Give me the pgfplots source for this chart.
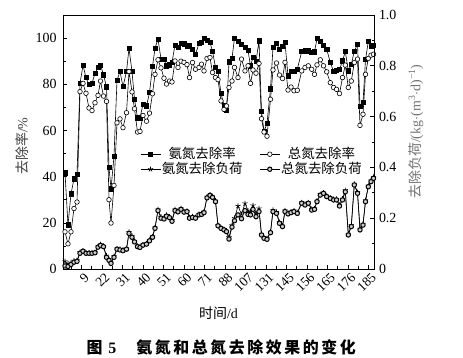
\documentclass[border=0pt]{standalone}
\usepackage{fontspec}
\setmainfont{Liberation Serif}
\newfontfamily\cjk{Noto Sans CJK SC}
\newfontfamily\cjkcap{Noto Sans CJK SC}[LetterSpace=16]
\usepackage{pgfplots}
\usepackage{pgfplotstable}
\pgfplotsset{compat=1.18}

\pgfplotstableread{
x nh tn nhl tnl
2 41.6 16.1 0.030 0.012
5 19.1 10.9 0.020 0.010
8 32.6 16.1 0.025 0.018
11 39.0 26.2 0.032 0.027
14 40.9 29.0 0.034 0.030
17 80.4 76.8 0.066 0.062
20 88.2 80.4 0.072 0.070
23 82.9 76.1 0.064 0.062
26 79.9 69.7 0.064 0.062
29 80.4 68.6 0.064 0.062
32 84.8 72.0 0.066 0.064
35 87.3 75.2 0.088 0.086
37.5 88.2 81.4 0.096 0.093
40.5 84.1 74.9 0.090 0.088
43.5 78.9 72.6 0.052 0.046
46 44.1 30.0 0.038 0.034
48 34.7 19.9 0.025 0.022
51 48.8 36.2 0.050 0.046
54 81.7 63.3 0.080 0.078
57 85.5 65.0 0.078 0.075
60 79.0 61.2 0.075 0.072
63.5 85.5 67.7 0.080 0.078
66 95.6 85.5 0.145 0.140
69 85.5 76.7 0.130 0.125
71.5 73.5 69.4 0.110 0.107
74.5 65.5 59.3 0.090 0.088
77 65.5 59.6 0.087 0.085
80 71.3 66.5 0.096 0.094
83.5 70.6 64.0 0.100 0.098
86.5 76.4 67.5 0.114 0.111
89.5 87.7 75.9 0.128 0.125
92 95.6 84.3 0.163 0.160
95 99.6 90.6 0.234 0.230
98 90.9 87.1 0.205 0.200
101 90.9 82.6 0.200 0.197
103.5 88.0 80.1 0.212 0.208
106.5 88.4 81.4 0.205 0.202
109 89.5 81.0 0.192 0.188
112 97.0 90.1 0.234 0.230
115 96.1 87.3 0.228 0.225
118 97.8 90.0 0.238 0.235
121 97.5 89.5 0.226 0.224
124 96.5 88.5 0.228 0.226
126.5 96.7 82.9 0.203 0.200
129.5 95.2 89.4 0.206 0.203
132.5 93.0 86.5 0.203 0.200
136 97.7 87.3 0.216 0.213
138.5 98.1 88.7 0.218 0.215
141 99.8 85.8 0.225 0.222
144 99.1 91.2 0.284 0.280
147 98.1 91.6 0.292 0.290
149.5 94.3 85.1 0.285 0.282
152.5 87.3 82.9 0.268 0.265
155 85.5 82.0 0.172 0.170
158 76.1 72.8 0.162 0.160
161 70.9 69.1 0.156 0.154
163.5 68.7 70.6 0.150 0.147
166 89.7 78.6 0.125 0.118
169 91.2 81.4 0.172 0.165
171.5 100.0 87.3 0.200 0.190
175 98.7 82.9 0.248 0.213
178.5 97.4 90.9 0.215 0.198
182 96.0 85.8 0.258 0.230
185 94.6 88.0 0.230 0.215
187.5 88.0 80.4 0.225 0.213
190 91.6 86.2 0.250 0.235
193 90.0 84.8 0.220 0.206
196 98.8 89.0 0.238 0.226
198.5 68.2 65.1 0.138 0.134
201 59.7 59.3 0.124 0.121
204 63.0 57.5 0.120 0.117
207.5 78.0 73.5 0.146 0.143
210 96.0 86.2 0.232 0.226
213.5 97.7 89.2 0.224 0.219
216.5 95.2 84.0 0.184 0.180
219.5 96.5 82.5 0.170 0.167
222 98.1 89.5 0.230 0.226
225 83.6 77.5 0.220 0.217
228 85.5 78.8 0.225 0.222
231 85.5 77.2 0.230 0.226
234.3 86.5 77.4 0.222 0.219
238.7 94.2 85.8 0.262 0.259
242 94.5 87.3 0.255 0.252
245.3 94.5 88.0 0.262 0.259
248.7 93.8 86.5 0.236 0.232
251.5 94.0 84.3 0.238 0.235
254 99.8 88.4 0.268 0.265
257.3 98.6 90.6 0.294 0.291
260.5 97.0 88.0 0.300 0.298
263.7 95.2 85.4 0.288 0.285
267.3 89.4 80.7 0.280 0.278
270.6 85.6 78.6 0.275 0.272
273.5 86.1 77.8 0.275 0.272
276.5 86.5 76.0 0.252 0.248
279.5 90.1 82.9 0.276 0.272
282.3 94.2 88.3 0.310 0.304
285.3 85.8 78.6 0.138 0.134
288.3 88.7 81.4 0.172 0.167
291.3 94.3 89.4 0.335 0.331
294.5 97.4 90.9 0.302 0.298
297 70.5 62.2 0.158 0.154
300 72.1 67.0 0.177 0.173
302.5 90.7 84.3 0.270 0.265
305.3 98.5 91.2 0.328 0.324
308 96.4 92.6 0.348 0.344
310.5 97.0 93.0 0.362 0.357
}\data

\begin{document}
\begin{tikzpicture}
\path[use as bounding box] (-63bp,-89bp) rectangle (400bp,269bp);
\pgfplotsset{
  common/.style={
    scale only axis, width=311bp, height=254bp,
    at={(0,0)}, anchor=south west,
    xmin=0, xmax=311,
    tick align=inside,
    major tick length=4bp, minor tick length=2.5bp,
    every tick/.style={black, line width=0.6bp},
    axis line style={line width=0.7bp, black},
    tick label style={font=\fontsize{14}{14}\selectfont},
    /pgf/number format/assume math mode=true,
  },
  sq/.style={black, line width=0.6bp, mark=square*, mark size=2.2bp, mark options={solid, fill=black}},
  ci/.style={black, line width=0.6bp, mark=*, mark size=2.3bp, mark options={solid, fill=white, line width=0.6bp}},
  st/.style={black, line width=0.6bp, mark=star, mark size=2.7bp, mark options={solid, line width=0.6bp}},
  cl/.style={black, line width=0.6bp, mark=*, mark size=2.2bp, mark options={solid, fill=gray!40, draw=black, line width=1bp}},
}
\begin{axis}[common,
  ymin=0, ymax=110,
  xtick pos=bottom, ytick pos=left,
  ytick={0,20,40,60,80,100},
  minor ytick={10,30,50,70,90},
  xtick={18.4,38.9,59.4,79.9,100.4,120.9,141.4,161.9,182.4,202.9,223.4,243.9,264.4,284.9,305.4},
  minor xtick={8.15,28.65,49.15,69.65,90.15,110.65,131.15,151.65,172.15,192.65,213.15,233.65,254.15,274.65,295.15},
  xticklabels={9,22,31,40,51,60,71,88,107,131,145,156,165,176,185},
  xticklabel style={rotate=45, anchor=north east, inner sep=0.5bp, yshift=-3bp, font=\fontsize{13.5}{13.5}\selectfont},
  yticklabel style={xshift=-3bp},
  xlabel={{\cjk 时间}/d},
  xlabel style={at={(axis description cs:0.5,-0.173)}, anchor=center, font=\fontsize{14}{14}\selectfont},
  ylabel={{\cjk 去除率}/\%},
  ylabel style={at={(axis description cs:-0.132,0.484)}, anchor=center, font=\fontsize{14}{14}\selectfont, color=black!75},
  legend columns=2,
  legend style={at={(axis description cs:0.238,0.49)}, anchor=north west, draw=none, fill=none,
    font=\fontsize{13.5}{13.5}\selectfont\cjk,
    nodes={inner sep=1bp, text height=10.5bp, text depth=2.5bp},
    /tikz/every even column/.append style={column sep=16bp}},
  legend image code/.code={\draw[mark repeat=2,mark phase=2] plot coordinates {(0bp,0bp) (10bp,0bp) (20bp,0bp)};},
]
\addplot[sq] table[x=x, y=nh] {\data};
\addlegendentry{氨氮去除率}
\addplot[ci] table[x=x, y=tn] {\data};
\addlegendentry{总氮去除率}
\addlegendimage{st}
\addlegendentry{氨氮去除负荷}
\addlegendimage{cl}
\addlegendentry{总氮去除负荷}
\end{axis}
\begin{axis}[common,
  ymin=0, ymax=1,
  axis x line=none, axis y line*=right,
  ytick={0,0.2,0.4,0.6,0.8,1.0},
  yticklabels={0,0.2,0.4,0.6,0.8,1.0},
  minor ytick={0.1,0.3,0.5,0.7,0.9},
  yticklabel style={xshift=1.5bp},
  ylabel={{\cjk 去除负荷}/(kg$\cdot$(m\textsuperscript{3}$\cdot$d)\textsuperscript{−1})},
  ylabel style={at={(axis description cs:1.135,0.541)}, anchor=center, font=\fontsize{14}{14}\selectfont, color=black!55},
]
\addplot[st] table[x=x, y=nhl] {\data};
\addplot[cl] table[x=x, y=tnl] {\data};
\end{axis}
\node[font=\fontsize{16}{16}\selectfont\bfseries, anchor=west] at (20bp,-78bp) {{\cjk 图}\hspace{6bp}5\hspace{20bp}{\cjkcap 氨氮和总氮去除效果的变化}};
\end{tikzpicture}
\end{document}
